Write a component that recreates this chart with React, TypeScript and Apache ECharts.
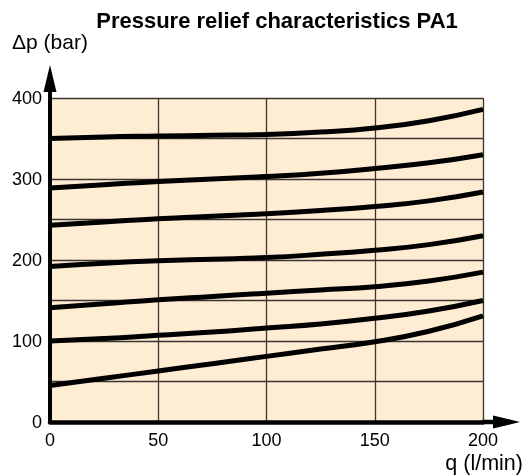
import React, { useEffect, useRef } from "react";
import * as echarts from "echarts";

const qValues = [0, 25, 50, 75, 100, 125, 150, 175, 200];
const curve350 = [350, 352, 353, 354, 355, 358, 363, 372, 386];
const curve290 = [289, 293, 297, 300, 303, 307, 313, 320, 330];
const curve245 = [243, 247, 251, 254, 257, 261, 266, 273, 284];
const curve195 = [192, 196, 199, 201, 203, 207, 212, 219, 230];
const curve140 = [141, 146, 151, 155, 159, 163, 167, 174, 185];
const curve100 = [100, 103, 107, 111, 116, 121, 128, 137, 150];
const curve45 = [45, 54, 63, 72, 81, 90, 99, 112, 131];
const curves = [curve350, curve290, curve245, curve195, curve140, curve100, curve45];

const FONT = "'Liberation Sans', Arial, Helvetica, sans-serif";

export default function App() {
  const ref = useRef<HTMLDivElement>(null);
  useEffect(() => {
    if (!ref.current) return;
    const chart = echarts.init(ref.current, undefined, { renderer: "svg" });
    chart.setOption({
      animation: false,
      title: {
        text: "Pressure relief characteristics PA1",
        left: 272,
        textAlign: "center",
        top: 4,
        textStyle: { fontFamily: FONT, fontSize: 22, fontWeight: "bold", color: "#000" },
      },
      grid: {
        left: 50,
        right: 41,
        top: 98,
        bottom: 53,
        show: true,
        backgroundColor: "#FEEDD3",
        borderWidth: 0,
        outerBoundsMode: "none",
        containLabel: false,
      },
      xAxis: {
        type: "value",
        min: 0,
        max: 200,
        interval: 50,
        name: "q (l/min)",
        nameLocation: "end",
        nameGap: 40,
        nameTextStyle: {
          fontFamily: FONT,
          fontSize: 21.5,
          color: "#000",
          align: "right",
          verticalAlign: "top",
          padding: [30, 0, 0, 0],
        },
        axisLine: { show: true, lineStyle: { color: "#000", width: 4.5 } },
        axisTick: { show: false },
        axisLabel: { fontFamily: FONT, fontSize: 18, color: "#000", margin: 9 },
        splitLine: { show: true, lineStyle: { color: "#3a3530", width: 1.3 } },
      },
      yAxis: {
        type: "value",
        min: 0,
        max: 400,
        interval: 50,
        name: "Δp (bar)",
        nameLocation: "end",
        nameGap: 46,
        nameTextStyle: { fontFamily: FONT, fontSize: 21, color: "#000", align: "center" },
        axisLine: { show: true, lineStyle: { color: "#000", width: 4 } },
        axisTick: { show: false },
        axisLabel: {
          fontFamily: FONT,
          fontSize: 18,
          color: "#000",
          margin: 8,
          formatter: (v: number) => (v % 100 === 0 ? String(v) : ""),
        },
        splitLine: { show: true, lineStyle: { color: "#3a3530", width: 1.3 } },
      },
      series: curves.map((c) => ({
        type: "line",
        data: qValues.map((q, i) => [q, c[i]]),
        smooth: 0.5,
        showSymbol: false,
        lineStyle: { color: "#000", width: 5 },
        z: 5,
      })),
    });
    const [x0, y0] = chart.convertToPixel({ gridIndex: 0 }, [0, 0]) as number[];
    const [x1] = chart.convertToPixel({ gridIndex: 0 }, [200, 0]) as number[];
    const [, y1] = chart.convertToPixel({ gridIndex: 0 }, [0, 400]) as number[];
    chart.setOption({
      graphic: [
        { type: "line", shape: { x1: x0, y1: y1 + 1, x2: x0, y2: y1 - 9 }, style: { stroke: "#000", lineWidth: 4 }, z: 10 },
        { type: "polygon", shape: { points: [[x0 - 6.5, y1 - 6], [x0 + 6.5, y1 - 6], [x0, y1 - 33]] }, style: { fill: "#000" }, z: 10 },
        { type: "line", shape: { x1: x1 - 1, y1: y0, x2: x1 + 12, y2: y0 }, style: { stroke: "#000", lineWidth: 4.5 }, z: 10 },
        { type: "polygon", shape: { points: [[x1 + 10, y0 - 6.5], [x1 + 10, y0 + 6.5], [x1 + 37, y0]] }, style: { fill: "#000" }, z: 10 },
      ],
    });
    return () => chart.dispose();
  }, []);
  return <div ref={ref} style={{ position: "fixed", left: 0, top: 0, width: 524, height: 475 }} />;
}
